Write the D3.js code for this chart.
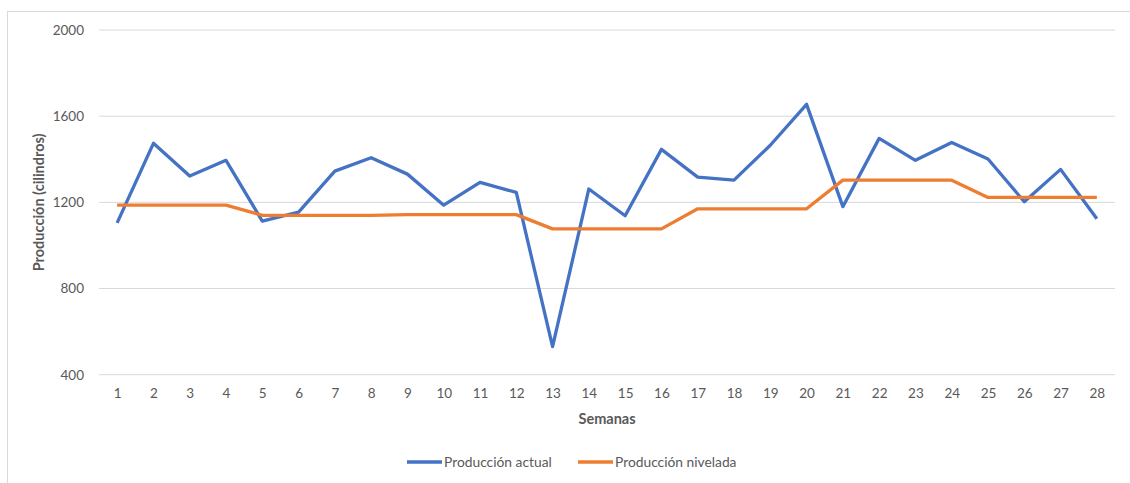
<!DOCTYPE html>
<html>
<head>
<meta charset="utf-8">
<script src="https://cdnjs.cloudflare.com/ajax/libs/d3/7.8.5/d3.min.js"></script>
<style>
  body { margin: 0; background: #fff; }
  text { font-family: Lato, "Open Sans", sans-serif; }
</style>
</head>
<body>
<div id="chart"></div>
<script>
// Chart data
var weeks = d3.range(1, 29).map(String);
var produccionActual = [1105, 1474, 1322, 1395, 1113, 1155, 1345, 1407, 1331, 1187,
  1293, 1246, 530, 1262, 1138, 1446, 1317, 1303, 1465, 1655,
  1180, 1497, 1395, 1478, 1401, 1203, 1353, 1124];
var produccionNivelada = [1187, 1187, 1187, 1187, 1140, 1140, 1140, 1140, 1143, 1143,
  1143, 1143, 1077, 1077, 1077, 1077, 1170, 1170, 1170, 1170,
  1303, 1303, 1303, 1303, 1223, 1223, 1223, 1223];
var yTicks = [400, 800, 1200, 1600, 2000];
var seriesNames = ["Producción actual", "Producción nivelada"];
var colors = ["#4472C4", "#ED7D31"];

var svgWidth = 1130;
var svgHeight = 483;
var margin = { top: 30, right: 15, bottom: 108, left: 99 };
var width = 1115 - margin.left;
var height = 374.7 - margin.top;

var svg = d3.select("#chart")
  .append("svg")
  .attr("width", svgWidth)
  .attr("height", svgHeight);

// outer chart border
svg.append("rect")
  .attr("x", 7.5)
  .attr("y", 11.5)
  .attr("width", svgWidth + 10)
  .attr("height", svgHeight + 10)
  .attr("fill", "none")
  .attr("stroke", "#d9d9d9");

var chartGroup = svg.append("g")
  .attr("transform", `translate(${margin.left}, ${margin.top})`);

var xScale = d3.scalePoint()
  .domain(weeks)
  .range([0, width])
  .padding(0.5);

var yScale = d3.scaleLinear()
  .domain([400, 2000])
  .range([height, 0]);

// gridlines
chartGroup.append("g")
  .selectAll("line")
  .data(yTicks)
  .enter()
  .append("line")
  .attr("x1", 0)
  .attr("x2", width)
  .attr("y1", d => yScale(d))
  .attr("y2", d => yScale(d))
  .attr("stroke", "#d9d9d9")
  .attr("stroke-width", 1);

// axes (labels only)
var leftAxis = d3.axisLeft(yScale)
  .tickValues(yTicks)
  .tickFormat(d3.format("d"))
  .tickSize(0)
  .tickPadding(15);
var bottomAxis = d3.axisBottom(xScale).tickSize(0).tickPadding(14);

var yAxisG = chartGroup.append("g").call(leftAxis);
var xAxisG = chartGroup.append("g")
  .attr("transform", `translate(0, ${height})`)
  .call(bottomAxis);

[yAxisG, xAxisG].forEach(function(g) {
  g.select(".domain").remove();
  g.selectAll("text")
    .attr("fill", "#595959")
    .style("font-size", "13.5px")
    .style("font-family", "Lato, 'Open Sans', sans-serif");
});

// lines
var line = d3.line()
  .x((d, i) => xScale(weeks[i]))
  .y(d => yScale(d));

[produccionActual, produccionNivelada].forEach(function(series, i) {
  chartGroup.append("path")
    .datum(series)
    .attr("fill", "none")
    .attr("stroke", colors[i])
    .attr("stroke-width", 3.3)
    .attr("stroke-linejoin", "round")
    .attr("d", line);
});

// axis titles
chartGroup.append("text")
  .attr("transform", "rotate(-90)")
  .attr("x", -height / 2)
  .attr("y", -55)
  .attr("text-anchor", "middle")
  .attr("fill", "#595959")
  .style("font-size", "14.5px")
  .style("font-weight", "bold")
  .text("Producción (cilindros)");

chartGroup.append("text")
  .attr("x", width / 2)
  .attr("y", height + 49)
  .attr("text-anchor", "middle")
  .attr("fill", "#595959")
  .style("font-size", "14.5px")
  .style("font-weight", "bold")
  .text("Semanas");

// legend
var legendX = [407, 578];
var legend = svg.append("g");
seriesNames.forEach(function(name, i) {
  legend.append("line")
    .attr("x1", legendX[i])
    .attr("x2", legendX[i] + 35)
    .attr("y1", 462)
    .attr("y2", 462)
    .attr("stroke", colors[i])
    .attr("stroke-width", 3.3);
  legend.append("text")
    .attr("x", legendX[i] + 37)
    .attr("y", 467)
    .attr("fill", "#595959")
    .style("font-size", "13.8px")
    .text(name);
});
</script>
</body>
</html>
